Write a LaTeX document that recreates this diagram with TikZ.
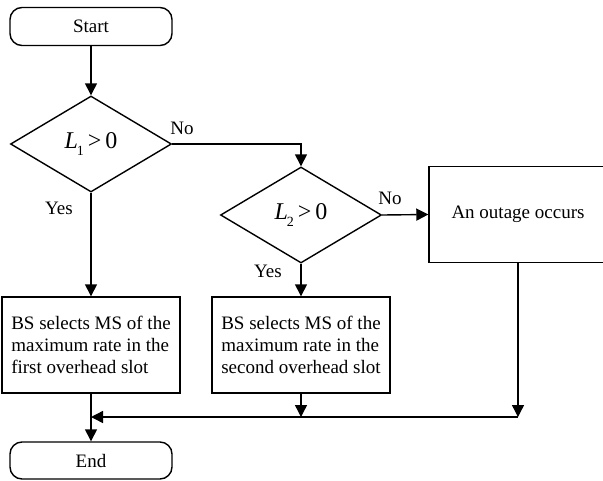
\documentclass[tikz,border=0pt]{standalone}
\usepackage{fontspec}
\setmainfont{Liberation Serif}
\newfontfamily\diagfont{Liberation Serif}
\usetikzlibrary{arrows.meta,shapes.geometric}

\tikzset{
  flow/.style={line width=1.4pt},
  arr/.style={flow,-{Triangle[length=12pt,width=12pt]}},
  terminal/.style={draw,line width=1.4pt,rounded corners=12pt,minimum width=162pt,minimum height=38pt,inner sep=0pt,font=\diagfont\fontsize{19}{22}\selectfont},
  decision/.style={draw,line width=1.4pt,diamond,aspect=1.68,minimum width=161pt,minimum height=96pt,inner sep=0pt,font=\diagfont\fontsize{24}{26}\selectfont},
  process/.style={draw,line width=1.4pt,minimum width=178pt,minimum height=96pt,inner sep=0pt,align=left,font=\diagfont\fontsize{19}{22.3}\selectfont},
  lbl/.style={font=\diagfont\fontsize{19}{22}\selectfont,inner sep=0pt}
}
\newcommand{\Lsub}[1]{\textit{L}\kern-1pt\raisebox{-0.28em}{\fontsize{14}{14}\selectfont #1}\kern4pt{>}\kern4pt0}

\begin{document}
\begin{tikzpicture}[x=1pt,y=-1pt]
  \useasboundingbox (0,0) rectangle (603,480);
  \clip (0,0) rectangle (603,480);

  \node[terminal] (start) at (91,26.5) {Start};
  \node[decision] (d1) at (91,144) {\Lsub{1}};
  \node[decision] (d2) at (301,215) {\Lsub{2}};
  \node[process,minimum width=178pt] (out) at (518,214.5) {An outage occurs};
  \node[process] (b1) at (91,345) {BS selects MS of the\\maximum rate in the\\first overhead slot};
  \node[process] (b2) at (301,345) {BS selects MS of the\\maximum rate in the\\second overhead slot};
  \node[terminal,minimum height=37pt] (end) at (91,460.5) {End};

  \coordinate (mR) at (518,417);
  \coordinate (mL) at (91,417);

  \draw[arr] (start) -- (d1);
  \draw[arr] (d1.east) -| (d2.north);
  \draw[arr] (d2.east) -- (out.west);
  \draw[arr] (d1.south) -- (b1.north);
  \draw[arr] (d2.south) -- (b2.north);
  \draw[arr] (out.south) -- (mR);
  \draw[arr] (mR) -- (mL);
  \draw[arr] (b2.south) -- (b2.south |- mR);
  \draw[arr] (b1.south) -- (end.north);

  \node[lbl] at (182,128) {No};
  \node[lbl] at (390,198) {No};
  \node[lbl] at (59,208) {Yes};
  \node[lbl] at (268,271) {Yes};
\end{tikzpicture}
\end{document}
